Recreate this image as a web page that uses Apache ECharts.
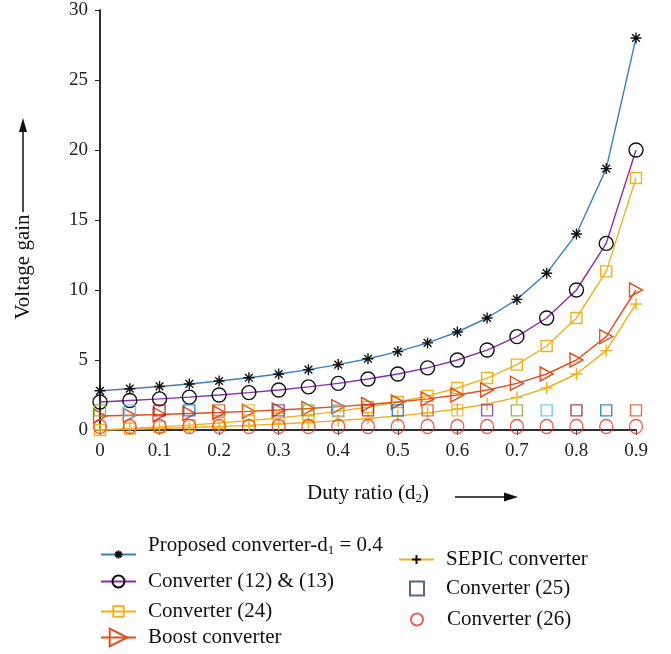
<!DOCTYPE html>
<html>
<head>
<meta charset="utf-8">
<script src="https://cdn.jsdelivr.net/npm/echarts@6/dist/echarts.min.js"></script>
<style>
html,body{margin:0;padding:0;background:#fff;}
#chart{width:671px;height:654px;}
</style>
</head>
<body>
<div id="chart"></div>
<script>
// ---- data ----
const dutyRatio = [0,0.05,0.1,0.15,0.2,0.25,0.3,0.35,0.4,0.45,0.5,0.55,0.6,0.65,0.7,0.75,0.8,0.85,0.9];
const proposed  = [2.8,2.95,3.11,3.29,3.5,3.73,4,4.31,4.67,5.09,5.6,6.22,7,8,9.33,11.2,14,18.67,28];
const conv1213  = [2,2.11,2.22,2.35,2.5,2.67,2.86,3.08,3.33,3.64,4,4.44,5,5.71,6.67,8,10,13.33,20];
const conv24    = [0,0.11,0.22,0.35,0.5,0.67,0.86,1.08,1.33,1.64,2,2.44,3,3.71,4.67,6,8,11.33,18];
const boost     = [1,1.05,1.11,1.18,1.25,1.33,1.43,1.54,1.67,1.82,2,2.22,2.5,2.86,3.33,4,5,6.67,10];
const sepic     = [0,0.05,0.11,0.18,0.25,0.33,0.43,0.54,0.67,0.82,1,1.22,1.5,1.86,2.33,3,4,5.67,9];
const conv25    = [1.4,1.4,1.4,1.4,1.4,1.4,1.4,1.4,1.4,1.4,1.4,1.4,1.4,1.4,1.4,1.4,1.4,1.4,1.4];
const conv26    = [0.25,0.25,0.25,0.25,0.25,0.25,0.25,0.25,0.25,0.25,0.25,0.25,0.25,0.25,0.25,0.25,0.25,0.25,0.25];
const yTicks = [0,5,10,15,20,25,30];
const xTickLabels = ['0','0.1','0.2','0.3','0.4','0.5','0.6','0.7','0.8','0.9'];
const names = ['Proposed converter-d1 = 0.4','Converter (12) & (13)','Converter (24)','Boost converter','SEPIC converter','Converter (25)','Converter (26)'];

// ---- style ----
const FONT = 'Liberation Serif';
const cBlue = '#3b80c4', cPurple = '#8a2cac', cYellow = '#f0b21c', cOrange = '#df5020', cRed = '#e8382c';
const cycle = ['#77ac30','#4dbeee','#a2142f','#0072bd','#d95319','#edb120','#7e2f8e'];
const ASTER = 'path://M5,0L5,10M0,5L10,5M1.5,1.5L8.5,8.5M8.5,1.5L1.5,8.5';
const PLUS = 'path://M5,0L5,10M0,5L10,5';
const TRI = 'path://M0,0L10,5L0,10Z';
const none = 'rgba(0,0,0,0)';

const pairs = arr => dutyRatio.map((x,i)=>[x,arr[i]]);

function lineSeries(name, arr, lineColor, symbol, size, stroke) {
  return {
    name, type:'line', data: pairs(arr), symbol, symbolSize: size,
    lineStyle:{color:lineColor,width:1.4}, showAllSymbol:true,
    itemStyle:{color:none,borderColor:stroke,borderWidth:1.4},
    emphasis:{disabled:true}, z:3
  };
}

const series = [
  lineSeries(names[0], proposed, cBlue, ASTER, 11, '#111'),
  lineSeries(names[1], conv1213, cPurple, 'circle', 14, '#111'),
  lineSeries(names[2], conv24, cYellow, 'rect', 11, cYellow),
  lineSeries(names[3], boost, cOrange, TRI, [13,14], cOrange),
  lineSeries(names[4], sepic, cYellow, PLUS, 12, cYellow),
  {
    name:names[5], type:'scatter', symbol:'rect', symbolSize:11,
    data: dutyRatio.map((x,i)=>({value:[x,conv25[i]], itemStyle:{borderColor:cycle[i%7]}})),
    itemStyle:{color:none,borderColor:'#2e3d6b',borderWidth:1.4}, emphasis:{disabled:true}, z:4
  },
  {
    name:names[6], type:'scatter', symbol:'circle', symbolSize:[13,14],
    data: pairs(conv26),
    itemStyle:{color:none,borderColor:cRed,borderWidth:1.4}, emphasis:{disabled:true}, z:5
  }
];

const legTxt = {fontFamily:FONT,fontSize:21,color:'#111',
  rich:{a:{fontFamily:FONT,fontSize:21,color:'#111'},s:{fontFamily:FONT,fontSize:13,color:'#111',verticalAlign:'bottom',padding:[10,0,0,0]}}};
function leg(name, left, top, w, h, pad, extra) {
  return {
    data:[Object.assign({name}, extra||{})], left, top, itemWidth:w, itemHeight:h,
    selectedMode:false, orient:'vertical', padding:0,
    textStyle:Object.assign({}, legTxt, {padding:pad}),
    formatter: n => n === names[0] ? '{a|Proposed converter-d}{s|1}{a| = 0.4}' : n
  };
}

const chart = echarts.init(document.getElementById('chart'), null, {renderer:'canvas'});
chart.setOption({
  animation:false,
  backgroundColor:'#fff',
  grid:{left:100,right:35,top:10,bottom:224},
  xAxis:[{
    type:'value', min:0, max:0.9, interval:0.1,
    axisLine:{lineStyle:{color:'#555',width:2}},
    axisTick:{show:true,length:5,inside:false,lineStyle:{color:'#333'}},
    splitLine:{show:false},
    axisLabel:{margin:12,fontFamily:FONT,fontSize:19,color:'#222',
      formatter:(v)=>xTickLabels[Math.round(v*10)]},
    name:'Duty ratio (d{s|2})', nameLocation:'middle', nameGap:52,
    nameTextStyle:{fontFamily:FONT,fontSize:21,color:'#111',
      rich:{s:{fontFamily:FONT,fontSize:13,color:'#111',verticalAlign:'bottom',padding:[10,0,0,0]}}}
  },{
    type:'value', position:'top', min:0, max:0.9,
    axisLine:{show:true,lineStyle:{color:'#222',width:1.5}},
    axisTick:{show:false}, axisLabel:{show:false}, splitLine:{show:false}
  }],
  yAxis:[{
    type:'value', min:yTicks[0], max:yTicks[yTicks.length-1], interval:5,
    axisLine:{show:true,lineStyle:{color:'#222',width:1.5}},
    axisTick:{show:true,length:5,lineStyle:{color:'#222'}},
    splitLine:{show:false},
    axisLabel:{margin:12,fontFamily:FONT,fontSize:19,color:'#222'}
  },{
    type:'value', position:'right', min:0, max:30,
    axisLine:{show:true,lineStyle:{color:'#222',width:1.5}},
    axisTick:{show:false}, axisLabel:{show:false}, splitLine:{show:false}
  }],
  legend:[
    leg(names[0],100,535,35,10,[0,0,18,7]),
    leg(names[1],100,571,35,15,[0,0,0,7]),
    leg(names[2],100,601,35,13,[0,0,0,7]),
    leg(names[3],100,627,35,22,[0,0,0,7]),
    leg(names[4],398,549,35,11,[0,0,0,7],{itemStyle:{borderColor:'#111'}}),
    leg(names[5],409,578,14,14,[0,0,0,17]),
    leg(names[6],410,609,12,18,[0,0,0,19])
  ],
  series,
  graphic:[
    {type:'text', x:23, y:267, rotation:Math.PI/2,
      style:{text:'Voltage gain', font:'21px "Liberation Serif"', fill:'#111', textAlign:'center', textVerticalAlign:'middle'}},
    {type:'line', shape:{x1:23,y1:212,x2:23,y2:128}, style:{stroke:'#111',lineWidth:1.5}},
    {type:'polygon', shape:{points:[[23,118],[19,132],[27,132]]}, style:{fill:'#111'}},
    {type:'line', shape:{x1:455,y1:497,x2:506,y2:497}, style:{stroke:'#111',lineWidth:1.5}},
    {type:'polygon', shape:{points:[[518,497],[504,492.5],[504,501.5]]}, style:{fill:'#111'}}
  ]
});
</script>
</body>
</html>
